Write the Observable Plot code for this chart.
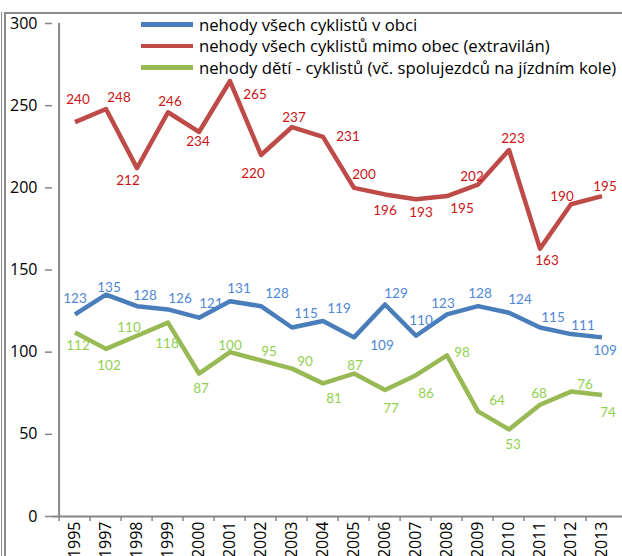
<!DOCTYPE html>
<html>
<head>
<meta charset="utf-8">
<script src="https://cdn.jsdelivr.net/npm/d3@7"></script>
<script src="https://cdn.jsdelivr.net/npm/@observablehq/plot@0.6"></script>
<style>
  body { margin: 0; background: #fff; }
  #wrap { position: relative; width: 622px; height: 556px; overflow: hidden; background: #fff; }
  #wrap svg { position: absolute; left: 0; top: 0; }
  .frame-outer { position: absolute; left: 1px; top: 12px; width: 0; height: 560px; border-left: 1.5px solid #8c8c8c; }
  .frame-inner { position: absolute; left: 4px; top: 12px; width: 640px; height: 560px; border-left: 2px solid #8c8c8c; border-top: 2px solid #8c8c8c; }
  .legend { position: absolute; left: 141px; top: 13.5px; font-family: 'Open Sans', sans-serif; font-size: 16.7px; color: #000; }
  .legend .row { display: flex; align-items: center; height: 21.5px; white-space: nowrap; }
  .legend .sw { width: 52px; height: 4.5px; margin-right: 6px; flex: none; }
</style>
</head>
<body>
<div id="wrap">
  <div class="frame-outer"></div>
  <div class="frame-inner"></div>
</div>
<script>
// ---- data ----
const years = ["1995","1997","1998","1999","2000","2001","2002","2003","2004","2005","2006","2007","2008","2009","2010","2011","2012","2013"];
const inTown   = [123,135,128,126,121,131,128,115,119,109,129,110,123,128,124,115,111,109];
const outTown  = [240,248,212,246,234,265,220,237,231,200,196,193,195,202,223,163,190,195];
const children = [112,102,110,118,87,100,95,90,81,87,77,86,98,64,53,68,76,74];
const yTicks = [0,50,100,150,200,250,300];
const seriesNames = [
  "nehody všech cyklistů v obci",
  "nehody všech cyklistů mimo obec (extravilán)",
  "nehody dětí - cyklistů (vč. spolujezdců na jízdním kole)"
];

// ---- label placement (pixel offsets of each data label from its point) ----
const inTownLabelDx   = [0,3,8,12,12,9,16,14,16,28,11,5,-4,2,11,13,12,3];
const inTownLabelDy   = [-16,-7,-10,-11,-14,-13,-12,-14,-12,8,-11,-15,-11,-12,-13,-10,-8,13];
const outTownLabelDx  = [3,13,-9,2,-1,25,-8,2,25,10,0,5,15,-6,4,7,-9,3];
const outTownLabelDy  = [-22,-11,13,-11,10,14,19,-9,0,-13,16,13,13,-8,-11,12,-8,-9];
const childLabelDx    = [3,3,-8,-1,2,0,8,13,11,1,6,10,15,19,4,-1,14,6];
const childLabelDy    = [13,17,-8,21,15,-6,-9,-7,15,-8,19,18,-3,-11,15,-11,-7,18];

// ---- styles ----
const lineColors  = ["#4a7ebb", "#be4b48", "#98b954"];
const labelColors = ["#4f88d6", "#cc1414", "#92d050"];
const axisGray = "#868686";

const series = [
  {name: seriesNames[0], values: inTown,   dx: inTownLabelDx,  dy: inTownLabelDy},
  {name: seriesNames[1], values: outTown,  dx: outTownLabelDx, dy: outTownLabelDy},
  {name: seriesNames[2], values: children, dx: childLabelDx,   dy: childLabelDy}
];

const xLeft = 52, xRight = 624;
const bw = (xRight - xLeft) / years.length;

const lineMarks = series.map((s, k) =>
  Plot.line(years.map((year, i) => ({year, value: s.values[i]})), {
    x: "year", y: "value", stroke: lineColors[k], strokeWidth: 4.5,
    strokeLinejoin: "round", strokeLinecap: "butt"
  })
);

const labelMarks = [];
series.forEach((s, k) => {
  years.forEach((year, i) => {
    labelMarks.push(Plot.text([{year, value: s.values[i]}], {
      x: "year", y: "value", text: d => String(d.value),
      dx: s.dx[i], dy: s.dy[i],
      fill: labelColors[k], fontSize: 13.5, fontFamily: "Lato, sans-serif"
    }));
  });
});

const chart = Plot.plot({
  width: 622,
  height: 556,
  marginLeft: 52,
  marginRight: 0,
  marginTop: 23,
  marginBottom: 40,
  style: {background: "transparent", fontFamily: "'Open Sans', sans-serif", fontSize: "16px", color: "#000", overflow: "visible"},
  x: {type: "band", domain: years, range: [xLeft, xRight], padding: 0, axis: null, label: null},
  y: {domain: [0, 300], range: [516, 23], axis: null, label: null},
  marks: [
    Plot.axisY(yTicks, {tickSize: 7, tickPadding: 8, stroke: axisGray, strokeWidth: 1.5, fill: "#000", fontSize: 16, label: null}),
    Plot.axisX({tickSize: 5, dx: -bw / 2, tickFormat: () => "", stroke: axisGray, strokeWidth: 1.5, label: null}),
    Plot.axisX({tickSize: 0, tickPadding: 5, tickRotate: -90, fill: "#000", fontSize: 16, label: null}),
    Plot.ruleY([0], {stroke: axisGray, strokeWidth: 2}),
    Plot.ruleX([years[0]], {x: d => d, y1: 0, y2: 300, dx: -bw / 2, stroke: axisGray, strokeWidth: 2}),
    ...lineMarks,
    ...labelMarks
  ]
});

const wrap = document.getElementById("wrap");
wrap.insertBefore(chart, wrap.firstChild);

// legend overlay
const legend = document.createElement("div");
legend.className = "legend";
seriesNames.forEach((name, k) => {
  const row = document.createElement("div");
  row.className = "row";
  const sw = document.createElement("span");
  sw.className = "sw";
  sw.style.background = lineColors[k];
  const t = document.createElement("span");
  t.textContent = name;
  row.appendChild(sw);
  row.appendChild(t);
  legend.appendChild(row);
});
wrap.appendChild(legend);
</script>
</body>
</html>
